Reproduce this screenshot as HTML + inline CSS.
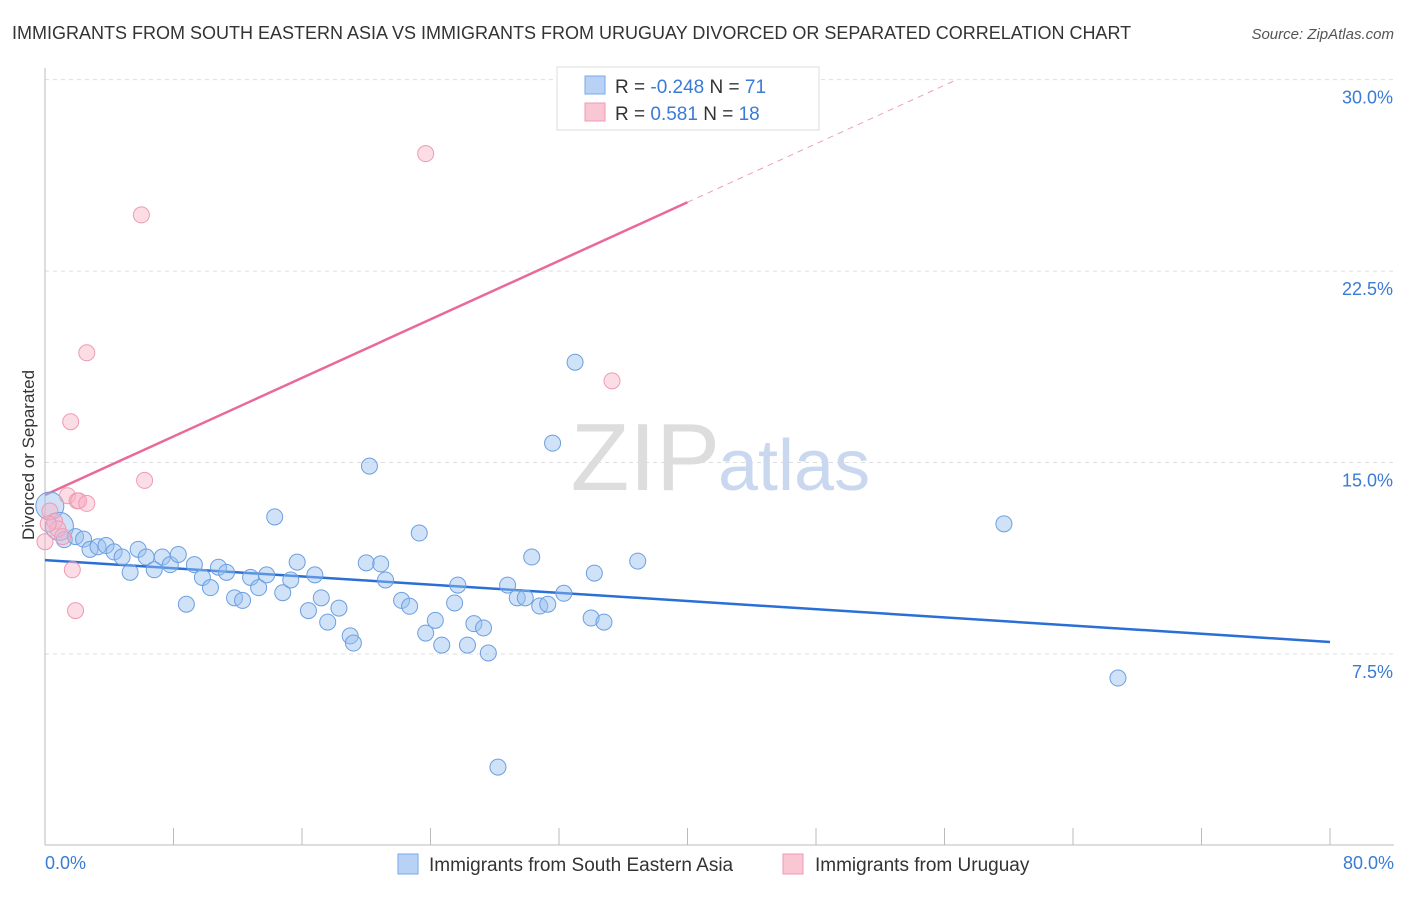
<!DOCTYPE html>
<html><head><meta charset="utf-8"><style>
body{margin:0;background:#fff;font-family:"Liberation Sans",sans-serif;}
svg text{font-family:"Liberation Sans",sans-serif;}
</style></head><body>
<svg id="chart" width="1406" height="892" viewBox="0 0 1406 892">
<text x="12" y="39" font-size="18" fill="#333">IMMIGRANTS FROM SOUTH EASTERN ASIA VS IMMIGRANTS FROM URUGUAY DIVORCED OR SEPARATED CORRELATION CHART</text>
<text x="1394" y="39" font-size="15" fill="#555" font-style="italic" text-anchor="end">Source: ZipAtlas.com</text>
<g id="grid"></g>
<text x="720" y="490" font-size="96" fill="#ddd" text-anchor="end" font-family="Liberation Serif">ZIP</text>
<text x="718" y="490" font-size="72" fill="#c9d8ee">atlas</text>
<line x1="45" y1="68" x2="45" y2="845" stroke="#bbb"/>
<line x1="45" y1="845" x2="1394" y2="845" stroke="#bbb"/>
<text transform="translate(34,455) rotate(-90)" font-size="17" fill="#333" text-anchor="middle">Divorced or Separated</text>
<text x="45" y="869" font-size="18" fill="#3a7bd5">0.0%</text>
<text x="1394" y="869" font-size="18" fill="#3a7bd5" text-anchor="end">80.0%</text>
<g id="lines"></g>
<g id="points"></g>
<g>
<rect x="557" y="67" width="262" height="63" fill="#fff" stroke="#ddd"/>
<rect x="585" y="76" width="20" height="18" fill="#b8d2f5" stroke="#7aa8e8"/>
<rect x="585" y="103" width="20" height="18" fill="#f9c6d3" stroke="#f09ab2"/>
<text x="615" y="93" font-size="19" fill="#333">R = <tspan fill="#3a7bd5">-0.248</tspan>   N = <tspan fill="#3a7bd5">71</tspan></text>
<text x="615" y="120" font-size="19" fill="#333">R =   <tspan fill="#3a7bd5">0.581</tspan>   N = <tspan fill="#3a7bd5">18</tspan></text>
</g>
<g>
<rect x="398" y="854" width="20" height="20" fill="#b8d2f5" stroke="#7aa8e8"/>
<text x="429" y="871" font-size="19" fill="#333">Immigrants from South Eastern Asia</text>
<rect x="783" y="854" width="20" height="20" fill="#f9c6d3" stroke="#f09ab2"/>
<text x="815" y="871" font-size="19" fill="#333">Immigrants from Uruguay</text>
</g>
</svg>
<script>
const yTicks=[7.5,15,22.5,30];
const yTickLabels=["7.5%","15.0%","22.5%","30.0%"];
const xTicks=[0,8,16,24,32,40,48,56,64,72,80];
const blueX=[0.3,0.9,1.2,1.9,2.4,2.8,3.3,3.8,4.3,4.8,5.3,5.8,6.3,6.8,7.3,7.8,8.3,8.8,9.3,9.8,10.3,10.8,11.3,11.8,12.3,12.8,13.3,13.8,14.3,14.8,15.3,15.7,16.4,16.8,17.2,17.6,18.3,19.0,19.2,20.0,20.2,20.9,21.2,22.2,22.7,23.3,23.7,24.3,24.7,25.5,25.7,26.3,26.7,27.3,27.6,28.2,28.8,29.4,29.9,30.3,30.8,31.3,31.6,32.3,33.0,34.0,34.2,34.8,36.9,59.7,66.8];
const blueY=[13.3,12.5,11.98,12.1,12.0,11.6,11.7,11.75,11.5,11.3,10.7,11.6,11.3,10.8,11.3,11.0,11.4,9.45,11.0,10.5,10.1,10.9,10.7,9.7,9.6,10.5,10.1,10.6,12.87,9.9,10.4,11.1,9.2,10.6,9.7,8.75,9.3,8.21,7.93,11.07,14.86,11.03,10.4,9.6,9.37,12.24,8.32,8.82,7.85,9.5,10.2,7.85,8.69,8.52,7.54,3.07,10.2,9.7,9.7,11.3,9.38,9.45,15.76,9.88,18.93,8.91,10.67,8.75,11.14,12.6,6.56];
const pinkX=[0.3,0.6,0.8,1.1,1.4,1.6,1.7,1.9,2.0,2.1,2.6,2.6,6.0,6.2,23.7,35.3,0.0,0.2];
const pinkY=[13.1,12.7,12.4,12.1,13.7,16.6,10.8,9.2,13.5,13.5,13.4,19.3,24.7,14.3,27.1,18.2,11.9,12.6];
const blueFit=[11.18,-0.0401];
const pinkFit=[13.73,0.2866];
const pinkSolidEnd=40;
const NS="http://www.w3.org/2000/svg";
const sx=v=>45+v*16.0625, sy=v=>845.5-v*25.53;
function mk(tag,attrs,parent){const e=document.createElementNS(NS,tag);for(const k in attrs)e.setAttribute(k,attrs[k]);parent.appendChild(e);return e;}
const grid=document.getElementById('grid');
yTicks.forEach((t,i)=>{
 const l=mk('line',{x1:45,x2:1394,y1:sy(t),y2:sy(t),stroke:'#ddd','stroke-dasharray':'4,4'},grid);
 
 
 const tx=mk('text',{x:1393,y:sy(t)+24,'font-size':18,fill:'#3a7bd5','text-anchor':'end'},grid);
 tx.textContent=yTickLabels[i];
 
 
});
xTicks.forEach(t=>{
 const l=mk('line',{x1:sx(t),x2:sx(t),y1:828,y2:845,stroke:'#bbb'},grid);
 
 
});
const pts=document.getElementById('points');
blueX.forEach((x,i)=>{
 const r=i<2?14:8;
 const c=mk('circle',{cx:sx(x),cy:sy(blueY[i]),r:r,fill:'rgba(150,190,240,0.45)',stroke:'#6c9fe0','stroke-width':1},pts);
 
 
});
pinkX.forEach((x,i)=>{
 const c=mk('circle',{cx:sx(x),cy:sy(pinkY[i]),r:8,fill:'rgba(248,180,200,0.45)',stroke:'#ee9ab2','stroke-width':1},pts);
 
 
});
const ln=document.getElementById('lines');
const b=mk('line',{x1:sx(0),y1:sy(blueFit[0]),x2:sx(80),y2:sy(blueFit[0]+blueFit[1]*80),stroke:'#2a6fd6','stroke-width':2.5},ln);


const p1=mk('line',{x1:sx(0),y1:sy(pinkFit[0]),x2:sx(pinkSolidEnd),y2:sy(pinkFit[0]+pinkFit[1]*pinkSolidEnd),stroke:'#e8699a','stroke-width':2.5},ln);


const xEnd=(30-pinkFit[0])/pinkFit[1];
const p2=mk('line',{x1:sx(pinkSolidEnd),y1:sy(pinkFit[0]+pinkFit[1]*pinkSolidEnd),x2:sx(xEnd),y2:sy(30),stroke:'#eaa0b8','stroke-width':1,'stroke-dasharray':'6,5'},ln);


</script>
</body></html>
